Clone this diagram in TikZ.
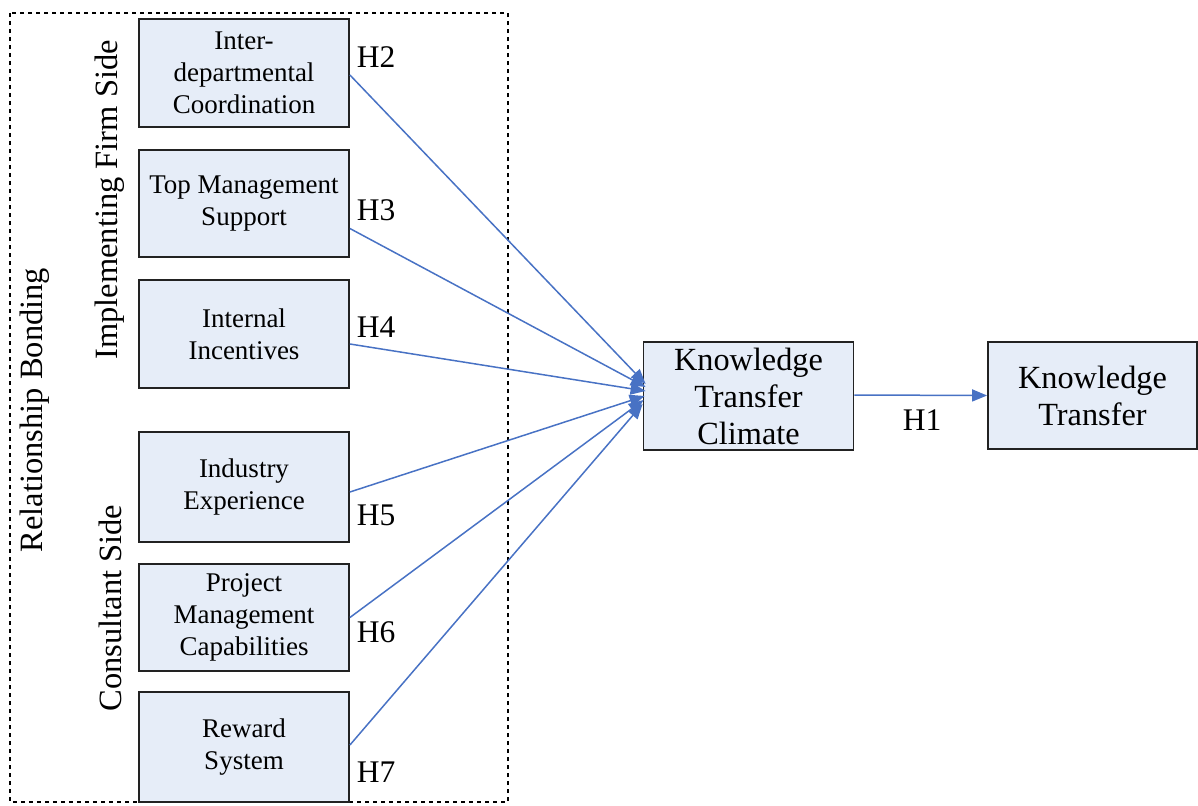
\documentclass[tikz,border=0pt]{standalone}
\usepackage{fontspec}
\setmainfont{Liberation Serif}
\usetikzlibrary{arrows.meta}
\definecolor{boxfill}{RGB}{230,237,248}
\definecolor{linkblue}{RGB}{72,114,196}
\definecolor{boxedge}{RGB}{34,34,34}
\begin{document}
\begin{tikzpicture}[x=1pt,y=-1pt,
  factor/.style={draw=boxedge,line width=1.8pt,fill=boxfill,minimum width=210pt,
    align=center,inner sep=0pt,font=\fontsize{27}{32}\selectfont},
  bigbox/.style={draw=boxedge,line width=1.8pt,fill=boxfill,minimum width=210pt,
    minimum height=108pt,align=center,inner sep=0pt,font=\fontsize{32.3}{37}\selectfont},
  hyp/.style={font=\fontsize{31.5}{31.5}\selectfont,inner sep=0pt},
  side/.style={rotate=90,font=\fontsize{32.5}{32.5}\selectfont,inner sep=0pt},
  link/.style={draw=linkblue,line width=1.5pt,-{Triangle[length=15pt,width=12pt]}}]
\useasboundingbox (0,0) rectangle (1198,805);
% dashed frame around the relationship-bonding factors
\draw[line width=1.5pt,dash pattern=on 4pt off 4pt] (10,13) rectangle (508,802);
% antecedent factors
\node[factor,minimum height=108pt] (idc) at (244,73) {Inter-\\departmental\\Coordination};
\node[factor,minimum height=107pt] (tms) at (244,203.5) {Top Management\\Support};
\node[factor,minimum height=108pt] (ii) at (244,334) {Internal\\Incentives};
\node[factor,minimum height=110pt] (ie) at (244,487) {Industry\\Experience};
\node[factor,minimum height=107pt] (pmc) at (244,617.5) {Project\\Management\\Capabilities};
\node[factor,minimum height=110pt] (rs) at (244,747) {Reward\\System};
% outcome constructs
\node[bigbox] (ktc) at (748.5,396) {Knowledge\\Transfer\\Climate};
\node[bigbox,minimum width=209pt,minimum height=107pt] (kt) at (1092.5,395.5) {Knowledge\\Transfer};
% group labels
\node[side] (rb) at (35,410) {Relationship Bonding};
\node[side] (ifs) at (110,200) {Implementing Firm Side};
\node[side] (cs) at (110,608) {Consultant Side};
% hypothesised paths
\draw[link] ([yshift=-2pt]idc.east) -- ([xshift=3pt,yshift=12pt]ktc.west);
\draw[link] ([yshift=-25pt]tms.east) -- ([xshift=3pt,yshift=9pt]ktc.west);
\draw[link] ([yshift=-10pt]ii.east) -- ([xshift=3pt,yshift=5pt]ktc.west);
\draw[link] ([yshift=-5pt]ie.east) -- ([xshift=2pt,yshift=0pt]ktc.west);
\draw[link] (pmc.east) -- ([xshift=1pt,yshift=-4pt]ktc.west);
\draw[link] ([yshift=2pt]rs.east) -- ([yshift=-8pt]ktc.west);
\draw[link] ([yshift=1pt]ktc.east) -- ([yshift=0pt]kt.west);
% hypothesis labels
\node[hyp] (h2) at (376,57) {H2};
\node[hyp] (h3) at (376,210) {H3};
\node[hyp] (h4) at (376,327) {H4};
\node[hyp] (h5) at (376,515) {H5};
\node[hyp] (h6) at (376,632) {H6};
\node[hyp] (h7) at (376,772) {H7};
\node[hyp] (h1) at (922,420) {H1};
\end{tikzpicture}
\end{document}
